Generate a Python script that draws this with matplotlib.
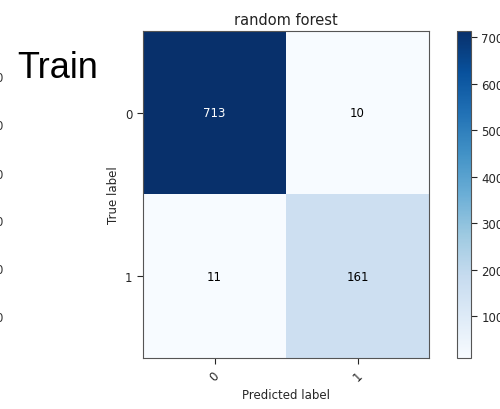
import matplotlib
matplotlib.use("Agg")
import matplotlib.pyplot as plt
import numpy as np

# confusion matrix data
classes = ["0", "1"]
cm = np.array([[713, 10],
               [11, 161]])
title = "random forest"
cbar_ticks = [100, 200, 300, 400, 500, 600, 700]

# cut-off tick labels of a neighbouring chart on the left edge
left_labels = ["0", "0", "0", "0", "0", "0"]
left_label_y = [79, 127, 176, 223, 271, 319]

plt.rcParams['font.family'] = ['DejaVu Sans']

fig = plt.figure(figsize=(5, 4.1), dpi=100)
ax = fig.add_axes([143 / 500, 1 - 359 / 410, (429 - 143) / 500, (359 - 32) / 410])
cax = fig.add_axes([457 / 500, 1 - 359 / 410, (471 - 457) / 500, (359 - 32) / 410])

im = ax.imshow(cm, interpolation='nearest', cmap=plt.cm.Blues, aspect='auto')
ax.set_title(title, fontsize=10.5, color='#222222', pad=5)

ticks = np.arange(len(classes))
ax.set_xticks(ticks)
ax.set_xticklabels(classes, rotation=45)
ax.set_yticks(ticks)
ax.set_yticklabels(classes)
ax.tick_params(labelsize=8.5, colors='#262626', length=4)

thresh = cm.max() / 2.
for i in range(cm.shape[0]):
    for j in range(cm.shape[1]):
        ax.text(j, i, format(cm[i, j], 'd'), ha='center', va='center', fontsize=8.5,
                color='white' if cm[i, j] > thresh else 'black')

ax.set_ylabel('True label', fontsize=8.5, color='#262626')
ax.set_xlabel('Predicted label', fontsize=8.5, color='#262626')
for s in ax.spines.values():
    s.set_color('#555555')

cb = fig.colorbar(im, cax=cax, ticks=cbar_ticks)
cb.ax.tick_params(labelsize=8.5, colors='#262626', length=4)
cb.outline.set_edgecolor('#555555')

fig.text(17 / 500, 1 - 78 / 410, "Train", fontsize=26, family='Liberation Sans',
         ha='left', va='baseline', color='black')

for lab, y in zip(left_labels, left_label_y):
    fig.text(2.5 / 500, 1 - y / 410, lab, fontsize=8.5, ha='right', va='center', color='#333333')

fig.savefig("out.png", dpi=100)
